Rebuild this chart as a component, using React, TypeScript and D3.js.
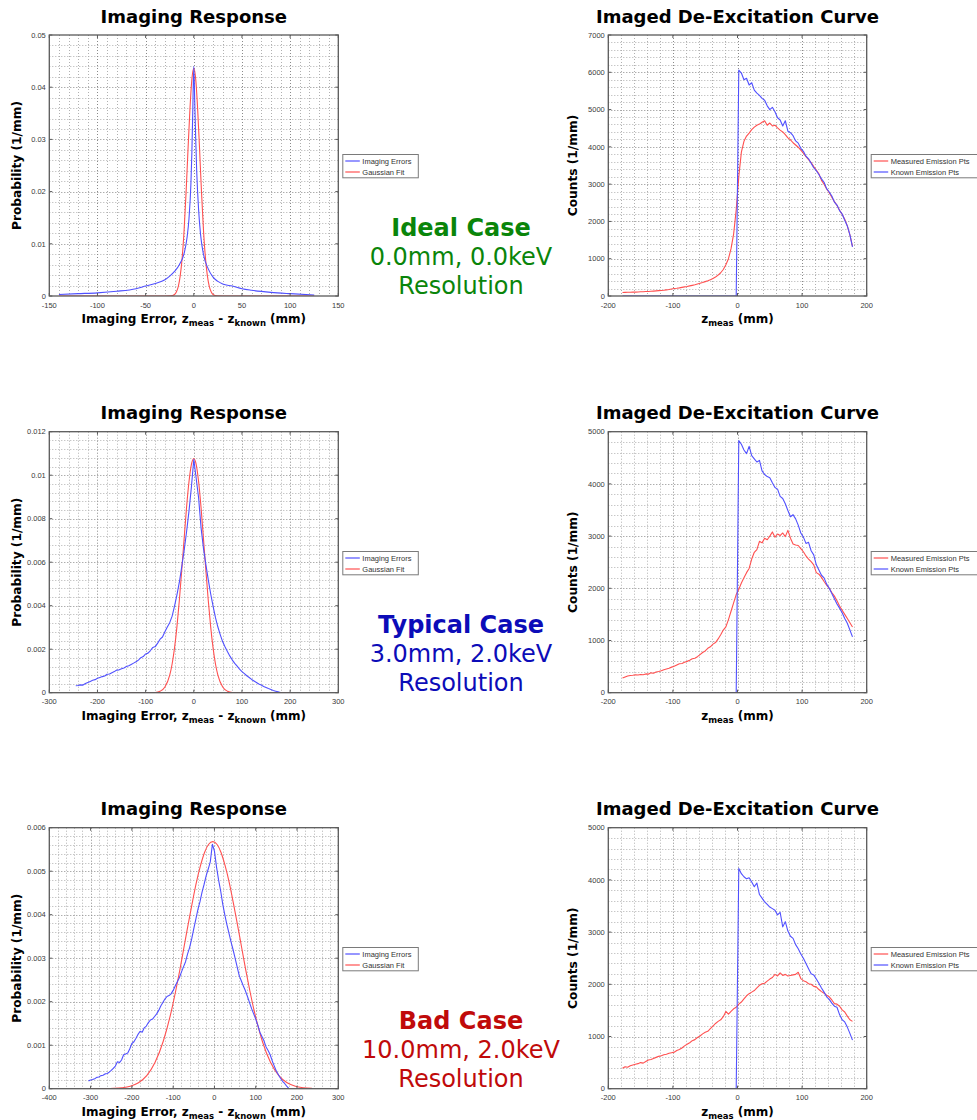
import React from "react";
import * as d3 from "d3";

// ---------------- data ----------------
// Imaging response, ideal case (0.0 mm, 0.0 keV)
const IDEAL_ERR_Z = [-140, -120, -100, -80, -60, -50, -40, -30, -25, -20, -15, -10, -7, -5, -3, -2, -1, 0, 1, 2, 3, 5, 7, 10, 15, 20, 25, 30, 40, 50, 60, 80, 100, 125];
const IDEAL_ERR_P = [0.0003, 0.00045, 0.0006, 0.0009, 0.0014, 0.0019, 0.0024, 0.0031, 0.0038, 0.0047,
  0.006, 0.0082, 0.0112, 0.0148, 0.0215, 0.0275, 0.036, 0.044, 0.037, 0.03,
  0.024, 0.0165, 0.0118, 0.008, 0.0052, 0.0036, 0.0028, 0.0023, 0.0019, 0.0014,
  0.0011, 0.0007, 0.00045, 0.0002];
const IDEAL_FIT_Z = [-140, -30, -24, -20, -18, -16, -14, -12, -10, -8, -6, -4, -2, 0, 2, 4, 6, 8, 10, 12, 14, 16, 18, 20, 24, 30, 125];
const IDEAL_FIT_P = [0, 0, 0.00003, 0.0003, 0.0008, 0.0019, 0.004, 0.0075, 0.0128, 0.0199,
  0.0281, 0.0358, 0.0415, 0.0436, 0.0415, 0.0358, 0.0281, 0.0199, 0.0128, 0.0075,
  0.004, 0.0019, 0.0008, 0.0003, 0.00003, 0, 0];

// Imaging response, typical case (3.0 mm, 2.0 keV): errors binned every 5 mm from -245 mm
const TYPICAL_ERR_Z = d3.range(-245, 181, 5);
const TYPICAL_ERR_P = [
  0.00032, 0.00033, 0.00036, 0.00035, 0.00042, 0.00047, 0.00052, 0.00057, 0.0006, 0.00066,
  0.0007, 0.00074, 0.00077, 0.00085, 0.00086, 0.00092, 0.00097, 0.00104, 0.00105, 0.0011,
  0.00114, 0.0012, 0.00124, 0.0013, 0.00136, 0.00142, 0.0015, 0.00161, 0.00166, 0.00178,
  0.00182, 0.00194, 0.00208, 0.00212, 0.00228, 0.00246, 0.00256, 0.0028, 0.00302, 0.00322,
  0.00352, 0.00398, 0.0045, 0.00508, 0.0058, 0.00655, 0.0074, 0.00835, 0.00945, 0.01072,
  0.00985, 0.00895, 0.0076, 0.00665, 0.0059, 0.0052, 0.00455, 0.00398, 0.00345, 0.00302,
  0.00266, 0.00234, 0.0021, 0.00188, 0.00168, 0.0015, 0.00135, 0.00122, 0.00108, 0.00097,
  0.00088, 0.00078, 0.0007, 0.00061, 0.00054, 0.00047, 0.0004, 0.00035, 0.00029, 0.00024,
  0.00019, 0.00015, 0.0001, 0.00007, 0.00004, 0.00001];
const TYPICAL_FIT_Z = [-245, -100, -80, -70, -60, -50, -45, -40, -35, -30, -25, -20, -15, -10, -5, 0, 5, 10, 15, 20, 25, 30, 35, 40, 45, 50, 60, 70, 80, 100, 200];
const TYPICAL_FIT_P = [0, 0, 0.00001, 0.00007, 0.00026, 0.00081, 0.00132, 0.00206, 0.00304, 0.00425,
  0.00564, 0.0071, 0.00853, 0.0097, 0.01049, 0.01077, 0.01049, 0.0097, 0.00853, 0.0071,
  0.00564, 0.00425, 0.00304, 0.00206, 0.00132, 0.00081, 0.00026, 0.00007, 0.00001, 0, 0];

// Imaging response, bad case (10.0 mm, 2.0 keV): errors binned every 5 mm from -305 mm
const BAD_ERR_Z = d3.range(-305, 181, 5);
const BAD_ERR_P = [
  0.00018, 0.0002, 0.00021, 0.00023, 0.00026, 0.00027, 0.0003, 0.00031, 0.00034, 0.00035,
  0.00038, 0.00042, 0.00047, 0.00052, 0.00062, 0.0006, 0.00066, 0.00078, 0.0008, 0.00082,
  0.00092, 0.00104, 0.00108, 0.00116, 0.00125, 0.00132, 0.0013, 0.0014, 0.00144, 0.00152,
  0.00158, 0.0016, 0.00166, 0.00172, 0.0018, 0.0019, 0.00198, 0.00206, 0.00212, 0.00214,
  0.00218, 0.00226, 0.00236, 0.00246, 0.00255, 0.00268, 0.0028, 0.00292, 0.0031, 0.00325,
  0.00345, 0.00368, 0.0039, 0.00412, 0.0043, 0.00452, 0.0047, 0.0049, 0.00505, 0.00522,
  0.00562, 0.00546, 0.0051, 0.0048, 0.00455, 0.00425, 0.004, 0.00378, 0.00358, 0.00338,
  0.0032, 0.003, 0.0028, 0.0026, 0.00248, 0.00236, 0.00225, 0.00212, 0.00198, 0.00184,
  0.00172, 0.0016, 0.00146, 0.0013, 0.0012, 0.0011, 0.00096, 0.00088, 0.00078, 0.00064,
  0.00052, 0.0004, 0.00032, 0.00024, 0.00017, 0.00012, 0.00006, 0.00001];
const BAD_FIT_Z = [-304, -264, -244, -224, -204, -184, -164, -144, -124, -104,
  -94, -84, -74, -64, -54, -44, -34, -24, -14, -4,
  6, 16, 26, 36, 46, 56, 66, 76, 86, 96,
  106, 116, 136, 156, 176, 196, 216, 236];
const BAD_FIT_P = [0, 0.0000024, 0.0000076, 0.000022, 0.000057, 0.000138, 0.0003, 0.0006, 0.00109, 0.0018,
  0.00224, 0.00272, 0.00324, 0.00376, 0.00426, 0.00473, 0.00512, 0.00543, 0.00562, 0.00568,
  0.00562, 0.00543, 0.00512, 0.00473, 0.00426, 0.00376, 0.00324, 0.00272, 0.00224, 0.0018,
  0.00142, 0.00109, 0.0006, 0.0003, 0.000138, 0.000057, 0.000022, 0.0000076];

// De-excitation curves: measured points binned every 4 mm from -178 mm,
// known points every 4 mm from 2 mm (zero below the entry point)
const MEASURED_Z = d3.range(-178, 179, 4);
const KNOWN_Z = d3.range(2, 179, 4);
const KNOWN_ZERO_Z = [-178, -2];

const IDEAL_MEASURED = [
  92, 96, 99, 101, 104, 103, 109, 112, 114, 120,
  121, 127, 132, 138, 143, 149, 156, 165, 174, 190,
  203, 208, 218, 231, 244, 256, 271, 285, 300, 320,
  340, 361, 386, 410, 437, 472, 510, 560, 624, 710,
  840, 1000, 1270, 1660, 2310, 3200, 3860, 4150, 4290, 4370,
  4460, 4530, 4580, 4610, 4660, 4700, 4580, 4640, 4560, 4580,
  4510, 4450, 4400, 4330, 4240, 4190, 4110, 4050, 3990, 3910,
  3830, 3740, 3660, 3580, 3470, 3380, 3280, 3100, 3000, 2870,
  2770, 2650, 2530, 2430, 2300, 2190, 2060, 1880, 1640, 1330];
const IDEAL_KNOWN = [
  6060, 5980, 5800, 5840, 5660, 5720, 5520, 5440, 5380, 5300,
  5250, 5100, 5000, 5060, 4940, 4780, 4720, 4560, 4700, 4420,
  4380, 4300, 4160, 4100, 3960, 3880, 3750, 3680, 3560, 3440,
  3360, 3260, 3140, 3050, 2880, 2790, 2680, 2520, 2440, 2290,
  2200, 2030, 1880, 1640, 1320];

const TYPICAL_MEASURED = [
  280, 300, 320, 330, 335, 345, 340, 350, 345, 360,
  355, 380, 372, 395, 405, 420, 440, 455, 470, 490,
  505, 530, 555, 560, 585, 600, 620, 650, 660, 690,
  730, 770, 800, 850, 880, 930, 960, 1030, 1110, 1200,
  1260, 1400, 1560, 1720, 1880, 1980, 2100, 2200, 2300, 2380,
  2560, 2690, 2740, 2900, 2870, 2960, 2930, 3000, 3080, 2980,
  3040, 3010, 3060, 2990, 3110, 2960, 2850, 2830, 2820, 2760,
  2700, 2620, 2560, 2510, 2450, 2300, 2270, 2210, 2130, 2060,
  2000, 1920, 1850, 1760, 1660, 1580, 1500, 1420, 1340, 1260];
const TYPICAL_KNOWN = [
  4830, 4760, 4650, 4580, 4720, 4540, 4480, 4420, 4450, 4250,
  4180, 4140, 4120, 4020, 3930, 3900, 3760, 3720, 3620, 3490,
  3370, 3410, 3330, 3210, 3060, 2980, 2860, 2880, 2720, 2640,
  2450, 2350, 2250, 2200, 2080, 2000, 1900, 1800, 1700, 1620,
  1530, 1420, 1330, 1200, 1070];

const BAD_MEASURED = [
  390, 420, 410, 440, 455, 470, 480, 500, 490, 520,
  550, 560, 580, 600, 620, 630, 650, 660, 680, 690,
  700, 730, 750, 780, 820, 850, 880, 920, 940, 980,
  1010, 1050, 1080, 1100, 1150, 1200, 1250, 1290, 1320, 1380,
  1480, 1430, 1480, 1530, 1560, 1620, 1660, 1720, 1780, 1820,
  1850, 1880, 1930, 1980, 2010, 2020, 2060, 2100, 2130, 2190,
  2160, 2220, 2170, 2190, 2160, 2170, 2180, 2190, 2230, 2110,
  2070, 2050, 2010, 2000, 1960, 1950, 1900, 1860, 1830, 1790,
  1760, 1700, 1630, 1620, 1580, 1510, 1470, 1390, 1320, 1290];
const BAD_KNOWN = [
  4220, 4120, 4060, 4020, 4040, 3960, 3870, 3940, 3720, 3650,
  3580, 3530, 3480, 3450, 3420, 3330, 3380, 3100, 3200, 3020,
  2920, 2880, 2760, 2680, 2580, 2500, 2400, 2300, 2200, 2180,
  2100, 2020, 1930, 1850, 1760, 1710, 1640, 1580, 1560, 1420,
  1320, 1280, 1180, 1060, 930];

// Axis ticks
const IDEAL_ERR_X_TICKS = [-150, -100, -50, 0, 50, 100, 150];
const IDEAL_ERR_Y_TICKS = [0, 0.01, 0.02, 0.03, 0.04, 0.05];
const TYPICAL_ERR_X_TICKS = [-300, -200, -100, 0, 100, 200, 300];
const TYPICAL_ERR_Y_TICKS = [0, 0.002, 0.004, 0.006, 0.008, 0.01, 0.012];
const BAD_ERR_X_TICKS = [-400, -300, -200, -100, 0, 100, 200, 300];
const BAD_ERR_Y_TICKS = [0, 0.001, 0.002, 0.003, 0.004, 0.005, 0.006];
const CURVE_X_TICKS = [-200, -100, 0, 100, 200];
const IDEAL_CURVE_Y_TICKS = [0, 1000, 2000, 3000, 4000, 5000, 6000, 7000];
const CURVE_Y_TICKS = [0, 1000, 2000, 3000, 4000, 5000];

// Case captions
const CASES = [
  { name: "Ideal Case", res: "0.0mm, 0.0keV", color: "#0a850a" },
  { name: "Typical Case", res: "3.0mm, 2.0keV", color: "#0c0cb8" },
  { name: "Bad Case", res: "10.0mm, 2.0keV", color: "#c00a0a" },
];

// ---------------- drawing ----------------
const BLUE = "#5050ff";
const RED = "#ff5050";
const TITLE_FONT = "'DejaVu Sans', Verdana, sans-serif";
const SMALL_FONT = "'Liberation Sans', Arial, sans-serif";
const FRAME = "#5a5a5a";

type Pt = [number, number];
type Series = { pts: Pt[]; color: string; smooth?: boolean };
type LegendItem = { label: string; color: string };

const zip = (xs: number[], ys: number[]): Pt[] => xs.map((v, i) => [v, ys[i]] as Pt);

function minorTicks(major: number[]) {
  const out: number[] = [];
  for (let i = 0; i < major.length - 1; i++) {
    const a = major[i];
    const b = major[i + 1];
    for (let k = 1; k < 5; k++) out.push(a + ((b - a) * k) / 5);
  }
  return out;
}

const crisp = (v: number) => Math.round(v) + 0.5;

type PanelProps = {
  id: string;
  left: number;
  top: number;
  width: number;
  height: number;
  xTicks: number[];
  yTicks: number[];
  title: string;
  xLabel: React.ReactNode;
  yLabel: string;
  yLabelX: number;
  series: Series[];
  legend: LegendItem[];
  legendW: number;
};

function Panel(p: PanelProps) {
  const x = d3.scaleLinear().domain([p.xTicks[0], p.xTicks[p.xTicks.length - 1]]).range([p.left, p.left + p.width]);
  const y = d3.scaleLinear().domain([p.yTicks[0], p.yTicks[p.yTicks.length - 1]]).range([p.top + p.height, p.top]);
  const x0 = p.left;
  const x1 = p.left + p.width;
  const y0 = p.top + p.height;
  const y1 = p.top;
  const tick = 3;

  const line = d3.line<Pt>().x((d) => x(d[0])).y((d) => y(d[1]));
  const smoothLine = d3.line<Pt>().x((d) => x(d[0])).y((d) => y(d[1])).curve(d3.curveMonotoneX);

  const legendX = x1 + 4;
  const legendH = 23.3;
  const legendY = p.top + p.height / 2 - legendH / 2;

  return (
    <g>
      <defs>
        <clipPath id={`clip-${p.id}`}>
          <rect x={x0} y={y1} width={p.width} height={p.height} />
        </clipPath>
      </defs>
      <rect x={x0} y={y1} width={p.width} height={p.height} fill="#fff" />
      {/* minor grid */}
      <g stroke="#b0b0b0" strokeWidth={1} strokeDasharray="1,2">
        {minorTicks(p.xTicks).map((v, i) => (
          <line key={`mx${i}`} x1={crisp(x(v))} x2={crisp(x(v))} y1={y1} y2={y0} />
        ))}
        {minorTicks(p.yTicks).map((v, i) => (
          <line key={`my${i}`} x1={x0} x2={x1} y1={crisp(y(v))} y2={crisp(y(v))} />
        ))}
      </g>
      {/* major grid */}
      <g stroke="#8a8a8a" strokeWidth={1} strokeDasharray="1,2">
        {p.xTicks.slice(1, -1).map((v, i) => (
          <line key={`gx${i}`} x1={crisp(x(v))} x2={crisp(x(v))} y1={y1} y2={y0} />
        ))}
        {p.yTicks.slice(1, -1).map((v, i) => (
          <line key={`gy${i}`} x1={x0} x2={x1} y1={crisp(y(v))} y2={crisp(y(v))} />
        ))}
      </g>
      {/* data */}
      <g clipPath={`url(#clip-${p.id})`} fill="none" strokeWidth={1.1} strokeLinejoin="round">
        {p.series.map((s, i) => (
          <path key={i} d={(s.smooth ? smoothLine : line)(s.pts) || ""} stroke={s.color} />
        ))}
      </g>
      {/* frame + inward ticks on all sides */}
      <rect x={x0} y={y1} width={p.width} height={p.height} fill="none" stroke={FRAME} strokeWidth={1.3} />
      <g stroke={FRAME} strokeWidth={1}>
        {p.xTicks.map((v, i) => (
          <g key={`tx${i}`}>
            <line x1={x(v)} x2={x(v)} y1={y0} y2={y0 - tick} />
            <line x1={x(v)} x2={x(v)} y1={y1} y2={y1 + tick} />
          </g>
        ))}
        {p.yTicks.map((v, i) => (
          <g key={`ty${i}`}>
            <line x1={x0} x2={x0 + tick} y1={y(v)} y2={y(v)} />
            <line x1={x1} x2={x1 - tick} y1={y(v)} y2={y(v)} />
          </g>
        ))}
      </g>
      {/* tick labels */}
      <g fontFamily={SMALL_FONT} fontSize={7.5} fill="#3a3a3a">
        {p.xTicks.map((v, i) => (
          <text key={`lx${i}`} x={x(v)} y={y0 + 11.5} textAnchor="middle">
            {String(v)}
          </text>
        ))}
        {p.yTicks.map((v, i) => (
          <text key={`ly${i}`} x={x0 - 3.5} y={y(v) + 2.7} textAnchor="end">
            {String(v)}
          </text>
        ))}
      </g>
      {/* title and axis labels */}
      <text x={(x0 + x1) / 2} y={y1 - 12.3} textAnchor="middle" fontFamily={TITLE_FONT} fontWeight="bold" fontSize={18} fill="#000">
        {p.title}
      </text>
      <text x={(x0 + x1) / 2} y={y0 + 27} textAnchor="middle" fontFamily={TITLE_FONT} fontWeight="bold" fontSize={12} fill="#000">
        {p.xLabel}
      </text>
      <text
        transform={`translate(${p.yLabelX},${(y0 + y1) / 2}) rotate(-90)`}
        textAnchor="middle"
        fontFamily={TITLE_FONT}
        fontWeight="bold"
        fontSize={12.2}
        fill="#000"
      >
        {p.yLabel}
      </text>
      {/* legend */}
      <g>
        <rect x={legendX + 0.5} y={Math.round(legendY) + 0.5} width={p.legendW} height={legendH} fill="#fff" stroke="#7a7a7a" strokeWidth={1} />
        {p.legend.map((it, i) => {
          const ly = Math.round(legendY + 7 + i * 11.3);
          return (
            <g key={i}>
              <line x1={legendX + 3} x2={legendX + 17.5} y1={ly} y2={ly} stroke={it.color} strokeWidth={1.6} strokeOpacity={0.75} />
              <text x={legendX + 20} y={ly + 2.6} fontFamily={SMALL_FONT} fontSize={7.5} fill="#333">
                {it.label}
              </text>
            </g>
          );
        })}
      </g>
    </g>
  );
}

const errLabel = (
  <>
    Imaging Error, z
    <tspan fontSize={8.5} dy={3}>meas</tspan>
    <tspan dy={-3}> - z</tspan>
    <tspan fontSize={8.5} dy={3}>known</tspan>
    <tspan dy={-3}> (mm)</tspan>
  </>
);
const zLabel = (
  <>
    z
    <tspan fontSize={8.5} dy={3}>meas</tspan>
    <tspan dy={-3}> (mm)</tspan>
  </>
);

const LEFT_X = 49.3;
const LEFT_W = 289;
const RIGHT_X = 608.3;
const RIGHT_W = 258.4;
const ROW_TOPS = [35, 431.7, 827.7];
const PLOT_H = 261;

const errLegend: LegendItem[] = [
  { label: "Imaging Errors", color: BLUE },
  { label: "Gaussian Fit", color: RED },
];
const curveLegend: LegendItem[] = [
  { label: "Measured Emission Pts", color: RED },
  { label: "Known Emission Pts", color: BLUE },
];

const knownSeries = (vals: number[]): Pt[] => [
  ...KNOWN_ZERO_Z.map((z) => [z, 0] as Pt),
  ...zip(KNOWN_Z, vals),
];

const rows = [
  {
    errTicks: [IDEAL_ERR_X_TICKS, IDEAL_ERR_Y_TICKS],
    errSeries: [
      { pts: zip(IDEAL_FIT_Z, IDEAL_FIT_P), color: RED, smooth: true },
      { pts: zip(IDEAL_ERR_Z, IDEAL_ERR_P), color: BLUE, smooth: true },
    ],
    curveY: IDEAL_CURVE_Y_TICKS,
    curveSeries: [
      { pts: zip(MEASURED_Z, IDEAL_MEASURED), color: RED },
      { pts: knownSeries(IDEAL_KNOWN), color: BLUE },
    ],
  },
  {
    errTicks: [TYPICAL_ERR_X_TICKS, TYPICAL_ERR_Y_TICKS],
    errSeries: [
      { pts: zip(TYPICAL_FIT_Z, TYPICAL_FIT_P), color: RED, smooth: true },
      { pts: zip(TYPICAL_ERR_Z, TYPICAL_ERR_P), color: BLUE },
    ],
    curveY: CURVE_Y_TICKS,
    curveSeries: [
      { pts: zip(MEASURED_Z, TYPICAL_MEASURED), color: RED },
      { pts: knownSeries(TYPICAL_KNOWN), color: BLUE },
    ],
  },
  {
    errTicks: [BAD_ERR_X_TICKS, BAD_ERR_Y_TICKS],
    errSeries: [
      { pts: zip(BAD_FIT_Z, BAD_FIT_P), color: RED, smooth: true },
      { pts: zip(BAD_ERR_Z, BAD_ERR_P), color: BLUE },
    ],
    curveY: CURVE_Y_TICKS,
    curveSeries: [
      { pts: zip(MEASURED_Z, BAD_MEASURED), color: RED },
      { pts: knownSeries(BAD_KNOWN), color: BLUE },
    ],
  },
];

export default function App() {
  return (
    <svg
      width={977}
      height={1120}
      viewBox="0 0 977 1120"
      style={{ position: "absolute", left: 0, top: 0, background: "#fff" }}
    >
      <rect x={0} y={0} width={977} height={1120} fill="#fff" />
      {rows.map((r, i) => {
        const top = ROW_TOPS[i];
        const c = CASES[i];
        return (
          <g key={i}>
            <Panel
              id={`err${i}`}
              left={LEFT_X}
              top={top}
              width={LEFT_W}
              height={PLOT_H}
              xTicks={r.errTicks[0]}
              yTicks={r.errTicks[1]}
              title="Imaging Response"
              xLabel={errLabel}
              yLabel="Probability (1/mm)"
              yLabelX={20.8}
              series={r.errSeries}
              legend={errLegend}
              legendW={75.5}
            />
            <Panel
              id={`curve${i}`}
              left={RIGHT_X}
              top={top}
              width={RIGHT_W}
              height={PLOT_H}
              xTicks={CURVE_X_TICKS}
              yTicks={r.curveY}
              title="Imaged De-Excitation Curve"
              xLabel={zLabel}
              yLabel="Counts (1/mm)"
              yLabelX={576.8}
              series={r.curveSeries}
              legend={curveLegend}
              legendW={110}
            />
            <g textAnchor="middle" fontFamily={TITLE_FONT} fill={c.color} fontSize={24}>
              <text x={461} y={top + 201} fontWeight="bold">{c.name}</text>
              <text x={461} y={top + 230}>{c.res}</text>
              <text x={461} y={top + 259}>Resolution</text>
            </g>
          </g>
        );
      })}
    </svg>
  );
}
